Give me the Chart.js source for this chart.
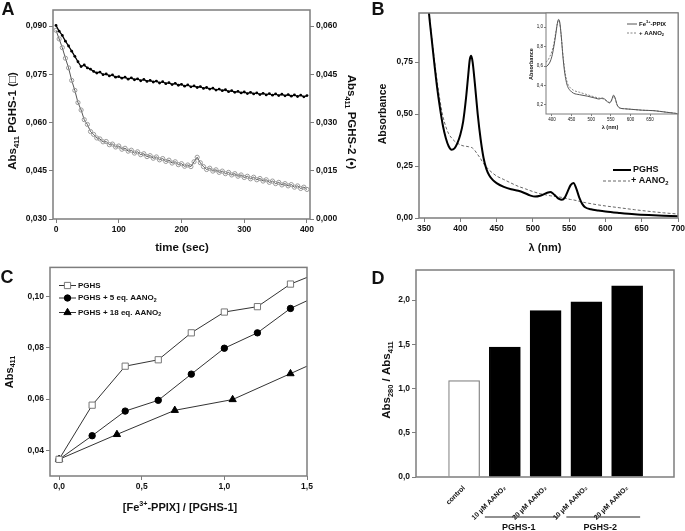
<!DOCTYPE html>
<html>
<head>
<meta charset="utf-8">
<title>PGHS heme figure</title>
<script src="https://cdn.jsdelivr.net/npm/chart.js@4.4.1/dist/chart.umd.min.js"></script>
<style>
  html, body { margin: 0; padding: 0; background: #fff; }
  #wrap { position: relative; width: 685px; height: 531px; overflow: hidden; background: #fff; }
  canvas { position: absolute; }
</style>
</head>
<body>
<div id="wrap">
  <canvas id="cA" width="362" height="262" style="left:0;top:0"></canvas>
  <canvas id="cB" width="323" height="262" style="left:362px;top:0"></canvas>
  <canvas id="cIn" width="160" height="140" style="left:525px;top:0"></canvas>
  <canvas id="cC" width="362" height="269" style="left:0;top:262px"></canvas>
  <canvas id="cD" width="323" height="269" style="left:362px;top:262px"></canvas>
</div>
<script>
// ---- panel A: decay of Abs411 over time
const timeSec = [0,5,10,15,20,25,30,35,40,45,50,55,60,65,70,75,80,85,90,95,100,105,110,115,120,125,130,135,140,145,150,155,160,165,170,175,180,185,190,195,200,205,210,215,220,225,230,235,240,245,250,255,260,265,270,275,280,285,290,295,300,305,310,315,320,325,330,335,340,345,350,355,360,365,370,375,380,385,390,395,400];
const absPghs1 = [.0902,.0884,.0871,.0853,.0838,.0822,.0806,.0789,.0774,.0779,
  .0770,.0766,.0759,.0754,.0757,.0749,.0751,.0745,.0748,.0741,
  .0743,
  .0738,.0741,.0735,.0739,.0733,.0736,.0730,.0734,.0728,.0731,
  .0726,.0729,.0723,.0727,.0721,.0724,.0718,.0722,.0716,.0719,
  .0713,.0717,.0711,.0714,.0709,.0712,.0706,.0709,.0704,.0707,
  .0701,.0704,.0699,.0702,.0696,.0699,.0694,.0697,.0692,.0695,
  .0690,.0694,.0689,.0692,.0687,.0691,.0686,.0690,.0685,.0689,
  .0684,.0688,.0683,.0687,.0682,.0686,.0681,.0685,.0680,.0684];
const absPghs2 = [.0587,.0560,.0533,.0500,.0470,.0431,.0400,.0362,.0339,.0309,
  .0294,.0272,.0263,.0252,.0249,.0240,.0241,.0231,.0233,.0224,
  .0227,
  .0217,.0220,.0211,.0214,.0205,.0209,.0200,.0203,.0194,.0197,
  .0189,.0193,.0184,.0188,.0179,.0183,.0174,.0178,.0169,.0172,
  .0164,.0168,.0163,.0178,.0192,.0175,.0163,.0154,.0158,.0149,
  .0153,.0145,.0149,.0141,.0145,.0137,.0141,.0133,.0137,.0129,
  .0133,.0125,.0130,.0122,.0126,.0118,.0122,.0114,.0118,.0110,
  .0114,.0106,.0110,.0103,.0107,.0099,.0103,.0095,.0099,.0092];
const timeTicks = [0, 100, 200, 300, 400];
const absTicksA = [0.030, 0.045, 0.060, 0.075, 0.090];
const abs2TicksA = [0.000, 0.015, 0.030, 0.045, 0.060];

// ---- panel B: spectra
const nmB = [352,356,360,364,368,372,376,380,384,388,392,396,400,404,408,411,413,415,417,420,424,428,432,436,440,445,450,460,470,480,490,496,503,510,517,521,524,528,532,536,540,544,548,552,556,560,564,568,572,580,590,600,620,640,660,680,700];
const specPghs = [1.25,1.02,0.88,0.75,0.63,0.53,0.445,0.385,0.345,0.328,0.335,0.36,0.40,0.465,0.58,0.69,0.76,0.78,0.75,0.65,0.50,0.38,0.29,0.235,0.205,0.182,0.168,0.150,0.138,0.131,0.118,0.109,0.103,0.107,0.117,0.123,0.125,0.117,0.104,0.092,0.088,0.098,0.128,0.158,0.168,0.140,0.098,0.068,0.052,0.042,0.036,0.031,0.024,0.018,0.014,0.011,0.008];
const specAano = [1.25,1.03,0.89,0.77,0.66,0.565,0.49,0.44,0.405,0.385,0.37,0.36,0.352,0.347,0.345,0.343,0.342,0.34,0.336,0.325,0.305,0.285,0.262,0.245,0.23,0.215,0.202,0.185,0.168,0.152,0.140,0.132,0.124,0.117,0.112,0.109,0.107,0.105,0.103,0.101,0.099,0.096,0.092,0.089,0.087,0.084,0.080,0.077,0.074,0.069,0.063,0.058,0.049,0.040,0.032,0.025,0.019];
const nmTicks = [350, 400, 450, 500, 550, 600, 650, 700];
const absTicksB = [0, 0.25, 0.5, 0.75];

// inset: free Fe3+-PPIX
const nmIn = [385,390,395,400,405,410,414,417,420,424,428,432,436,440,446,455,470,490,510,520,528,534,542,547,552,557,561,566,572,585,600,630,660,690,720];
const specHemin = [0.59,0.61,0.64,0.70,0.80,0.93,1.04,1.08,1.05,0.90,0.70,0.55,0.45,0.39,0.35,0.32,0.305,0.29,0.27,0.26,0.27,0.26,0.23,0.22,0.25,0.30,0.27,0.20,0.17,0.16,0.155,0.145,0.14,0.125,0.11];
const specHeminAano = [0.64,0.66,0.70,0.75,0.83,0.95,1.04,1.07,1.04,0.90,0.72,0.58,0.48,0.42,0.38,0.35,0.33,0.305,0.28,0.27,0.265,0.255,0.235,0.225,0.245,0.285,0.265,0.20,0.17,0.16,0.155,0.145,0.14,0.125,0.11];
const nmTicksIn = [400, 450, 500, 550, 600, 650];
const absTicksIn = [0.2, 0.4, 0.6, 0.8, 1.0];

// ---- panel C: titration
const ratioC = [0, 0.2, 0.4, 0.6, 0.8, 1.0, 1.2, 1.4, 1.6];
const absC0 = [0.0365, 0.0576, 0.0728, 0.0753, 0.0858, 0.0939, 0.0960, 0.1048, 0.1100];
const absC5 = [0.0365, 0.0457, 0.0553, 0.0595, 0.0697, 0.0798, 0.0858, 0.0953, 0.1013];
const ratioC18 = [0, 0.35, 0.70, 1.05, 1.4, 1.6];
const absC18 = [0.0365, 0.0462, 0.0556, 0.0598, 0.0699, 0.0757];
const ratioTicks = [0, 0.5, 1.0, 1.5];
const absTicksC = [0.04, 0.06, 0.08, 0.10];

// ---- panel D: Abs280/Abs411
const catLabels = ['control', '10 µM AANO₂', '20 µM AANO₂', '10 µM AANO₂', '20 µM AANO₂'];
const ratioD = [1.09, 1.47, 1.88, 1.98, 2.16];
const groupsD = [['PGHS-1', 2, 3], ['PGHS-2', 4, 5]];
const ratioTicksD = [0, 0.5, 1.0, 1.5, 2.0];

const FONT = "Arial, 'Liberation Sans', Helvetica, sans-serif";
const GRAY = '#7d7d7d';
Chart.defaults.font.family = FONT;

const fmt = d => v => v.toFixed(d).replace('.', ',');
const tickFont = { family: FONT, size: 8.5, weight: 'bold' };

function axis(o) {
  return {
    type: 'linear',
    position: o.position,
    min: o.min, max: o.max,
    offset: false,
    border: { display: false },
    grid: { display: o.grid !== false, offset: false, drawOnChartArea: false, tickLength: o.tickLen || 4, color: GRAY, lineWidth: 1 },
    ticks: { font: o.font || tickFont, color: '#111', padding: o.pad == null ? 2 : o.pad,
      callback: o.fmt, autoSkip: false, maxRotation: o.rot || 0, minRotation: o.rot || 0 },
    afterBuildTicks: s => { s.ticks = o.values.map(v => ({ value: v })); },
    afterFit: s => {
      if (o.width != null) s.width = o.width;
      if (o.height != null) s.height = o.height;
      s.paddingLeft = s.paddingRight = s.paddingTop = s.paddingBottom = 0;
    }
  };
}

function baseOptions(pad, scales) {
  return {
    responsive: false, maintainAspectRatio: false, animation: false, events: [],
    layout: { padding: pad },
    plugins: { legend: { display: false }, tooltip: { enabled: false } },
    scales: scales
  };
}

// text with sub/superscripts: parts = [[text, 0 normal | 1 sub | 2 sup], ...]
function rich(ctx, t) {
  const size = t.size, small = size * 0.65;
  ctx.save();
  ctx.translate(t.x, t.y);
  if (t.rot) ctx.rotate(t.rot * Math.PI / 180);
  ctx.fillStyle = t.color || '#111';
  ctx.textBaseline = 'middle';
  ctx.textAlign = 'left';
  const fontOf = m => `${t.weight || 'bold'} ${m ? small : size}px ${FONT}`;
  let w = 0;
  t.parts.forEach(([s, m]) => { ctx.font = fontOf(m); w += ctx.measureText(s).width; });
  let cx = t.align === 'left' ? 0 : -w / 2;
  t.parts.forEach(([s, m]) => {
    ctx.font = fontOf(m);
    const dy = m === 1 ? size * 0.32 : m === 2 ? -size * 0.35 : 0;
    ctx.fillText(s, cx, dy);
    cx += ctx.measureText(s).width;
  });
  ctx.restore();
}

function marker(ctx, ds, r, x, y) {
  ctx.save();
  ctx.fillStyle = ds.pointBackgroundColor;
  ctx.strokeStyle = ds.pointBorderColor;
  ctx.lineWidth = ds.pointBorderWidth;
  Chart.helpers.drawPoint(ctx, { pointStyle: ds.pointStyle, radius: r, rotation: 0, borderWidth: ds.pointBorderWidth }, x, y);
  ctx.restore();
}

// frame, titles, hand-placed legend
function decor(cfg) {
  const ox = cfg.off[0], oy = cfg.off[1];
  return {
    id: 'decor',
    beforeDatasetsDraw(chart) {
      if (!cfg.fill) return;
      const a = chart.chartArea, ctx = chart.ctx;
      ctx.save(); ctx.fillStyle = '#fff';
      ctx.fillRect(a.left, a.top, a.right - a.left, a.bottom - a.top);
      ctx.restore();
    },
    afterDraw(chart) {
      const a = chart.chartArea, ctx = chart.ctx;
      ctx.save();
      ctx.strokeStyle = GRAY; ctx.lineWidth = cfg.frame || 1.5;
      ctx.strokeRect(a.left, a.top, a.right - a.left, a.bottom - a.top);
      ctx.restore();
      (cfg.texts || []).forEach(t => rich(ctx, Object.assign({}, t, { x: t.x - ox, y: t.y - oy })));
      (cfg.legend || []).forEach(it => {
        const ds = chart.data.datasets[it.ds];
        const y = it.y - oy;
        ctx.save();
        ctx.strokeStyle = ds.borderColor; ctx.lineWidth = ds.borderWidth;
        ctx.setLineDash(ds.borderDash || []);
        ctx.beginPath(); ctx.moveTo(it.x1 - ox, y); ctx.lineTo(it.x2 - ox, y); ctx.stroke();
        ctx.restore();
        if (it.r) marker(ctx, ds, it.r, (it.x1 + it.x2) / 2 - ox, y);
        rich(ctx, { parts: it.parts, x: it.tx - ox, y: y, size: it.size, align: 'left' });
      });
      if (cfg.after) cfg.after(chart, ox, oy);
    }
  };
}

// ================= A
new Chart(document.getElementById('cA'), {
  type: 'line',
  data: {
    datasets: [
      { label: 'PGHS-1', data: timeSec.map((t, i) => ({ x: t, y: absPghs1[i] })), yAxisID: 'y',
        borderColor: '#000', borderWidth: 1.3, pointRadius: 1.4, pointBackgroundColor: '#000', pointBorderWidth: 0 },
      { label: 'PGHS-2', data: timeSec.map((t, i) => ({ x: t, y: absPghs2[i] })), yAxisID: 'y2',
        borderColor: '#555', borderWidth: 1, pointRadius: 2.1, pointBackgroundColor: 'rgba(255,255,255,0)',
        pointBorderColor: '#9a9a9a', pointBorderWidth: 1 }
    ]
  },
  options: baseOptions({ top: 10 }, {
    x: axis({ position: 'bottom', min: -4.8, max: 404.8, values: timeTicks, fmt: v => String(v), height: 43 }),
    y: axis({ position: 'left', min: 0.030, max: 0.095, values: absTicksA, fmt: fmt(3), width: 53 }),
    y2: axis({ position: 'right', min: 0.000, max: 0.065, values: abs2TicksA, fmt: fmt(3), width: 52 })
  }),
  plugins: [decor({ off: [0, 0], texts: [
    { parts: [['A', 0]], x: 8, y: 10, size: 18 },
    { parts: [['Abs', 0], ['411', 1], [' PGHS-1 (□)', 0]], x: 13, y: 121, rot: -90, size: 11.5 },
    { parts: [['Abs', 0], ['411', 1], [' PGHS-2 (•)', 0]], x: 351, y: 122, rot: 90, size: 11.5 },
    { parts: [['time (sec)', 0]], x: 182, y: 248, size: 11.5 }
  ] })]
});

// ================= B
new Chart(document.getElementById('cB'), {
  type: 'line',
  data: {
    datasets: [
      { label: 'PGHS', data: nmB.map((n, i) => ({ x: n, y: specPghs[i] })),
        borderColor: '#000', borderWidth: 2, pointRadius: 0, cubicInterpolationMode: 'monotone' },
      { label: '+ AANO2', data: nmB.map((n, i) => ({ x: n, y: specAano[i] })),
        borderColor: '#666', borderWidth: 1, borderDash: [3, 2], pointRadius: 0, cubicInterpolationMode: 'monotone' }
    ]
  },
  options: baseOptions({ top: 13, right: 7 }, {
    x: axis({ position: 'bottom', min: 343.1, max: 700, values: nmTicks, fmt: v => String(v), height: 44 }),
    y: axis({ position: 'left', min: 0, max: 0.986, values: absTicksB, fmt: fmt(2), width: 57 })
  }),
  plugins: [decor({ off: [362, 0],
    texts: [
      { parts: [['B', 0]], x: 378, y: 10, size: 18 },
      { parts: [['Absorbance', 0]], x: 383, y: 114, rot: -90, size: 10.5 },
      { parts: [['λ (nm)', 0]], x: 545, y: 248, size: 11 }
    ],
    legend: [
      { ds: 0, x1: 613, x2: 631, y: 170, tx: 633, size: 9, parts: [['PGHS', 0]] },
      { ds: 1, x1: 603, x2: 630, y: 181, tx: 631, size: 9, parts: [['+ AANO', 0], ['2', 1]] }
    ] })]
});

// ================= B inset
const inFont = { family: FONT, size: 4.5 };
new Chart(document.getElementById('cIn'), {
  type: 'line',
  data: {
    datasets: [
      { label: 'Fe3+-PPIX', data: nmIn.map((n, i) => ({ x: n, y: specHemin[i] })),
        borderColor: '#555', borderWidth: 1, pointRadius: 0, cubicInterpolationMode: 'monotone' },
      { label: '+ AANO2', data: nmIn.map((n, i) => ({ x: n, y: specHeminAano[i] })),
        borderColor: '#666', borderWidth: 0.8, borderDash: [2, 1.5], pointRadius: 0, cubicInterpolationMode: 'monotone' }
    ]
  },
  options: baseOptions({ top: 13, right: 7 }, {
    x: axis({ position: 'bottom', min: 385, max: 721, values: nmTicksIn, fmt: v => String(v), height: 26, font: inFont, tickLen: 2, pad: 1 }),
    y: axis({ position: 'left', min: 0.106, max: 1.146, values: absTicksIn, fmt: fmt(1), width: 21, font: inFont, tickLen: 2, pad: 1 })
  }),
  plugins: [decor({ off: [525, 0], fill: true, frame: 1,
    texts: [
      { parts: [['Absorbance', 0]], x: 531, y: 64, rot: -90, size: 5.5 },
      { parts: [['λ (nm)', 0]], x: 610, y: 127, size: 5.5 }
    ],
    legend: [
      { ds: 0, x1: 627, x2: 637, y: 24, tx: 639, size: 6, parts: [['Fe', 0], ['3+', 2], ['-PPIX', 0]] },
      { ds: 1, x1: 627, x2: 637, y: 33, tx: 639, size: 6, parts: [['+ AANO', 0], ['2', 1]] }
    ] })]
});

// ================= C
const hideBeyond = c => (c.parsed && c.parsed.x > 1.5 ? 0 : undefined);
new Chart(document.getElementById('cC'), {
  type: 'line',
  data: {
    datasets: [
      { label: 'PGHS', data: ratioC.map((r, i) => ({ x: r, y: absC0[i] })),
        borderColor: '#333', borderWidth: 1, pointStyle: 'rect',
        pointRadius: c => hideBeyond(c) === 0 ? 0 : 4.4, pointBackgroundColor: '#fff', pointBorderColor: '#777', pointBorderWidth: 1 },
      { label: 'PGHS + 5 eq. AANO2', data: ratioC.map((r, i) => ({ x: r, y: absC5[i] })),
        borderColor: '#333', borderWidth: 1, pointStyle: 'circle',
        pointRadius: c => hideBeyond(c) === 0 ? 0 : 3.2, pointBackgroundColor: '#000', pointBorderColor: '#000', pointBorderWidth: 1 },
      { label: 'PGHS + 18 eq. AANO2', data: ratioC18.map((r, i) => ({ x: r, y: absC18[i] })),
        borderColor: '#333', borderWidth: 1, pointStyle: 'triangle',
        pointRadius: c => hideBeyond(c) === 0 ? 0 : 4.2, pointBackgroundColor: '#000', pointBorderColor: '#000', pointBorderWidth: 1 }
    ]
  },
  options: baseOptions({ top: 5, right: 55 }, {
    x: axis({ position: 'bottom', min: -0.055, max: 1.5, values: ratioTicks, fmt: fmt(1), height: 55 }),
    y: axis({ position: 'left', min: 0.030, max: 0.1113, values: absTicksC, fmt: fmt(2), width: 50 })
  }),
  plugins: [decor({ off: [0, 262],
    texts: [
      { parts: [['C', 0]], x: 7, y: 278, size: 18 },
      { parts: [['Abs', 0], ['411', 1]], x: 10, y: 372, rot: -90, size: 11 },
      { parts: [['[Fe', 0], ['3+', 2], ['-PPIX] / [PGHS-1]', 0]], x: 180, y: 508, size: 11 }
    ],
    legend: [
      { ds: 0, x1: 59, x2: 76, y: 285.5, r: 4.4, tx: 78, size: 8, parts: [['PGHS', 0]] },
      { ds: 1, x1: 59, x2: 76, y: 298, r: 3.2, tx: 78, size: 8, parts: [['PGHS + 5 eq. AANO', 0], ['2', 1]] },
      { ds: 2, x1: 59, x2: 76, y: 312.5, r: 4.2, tx: 78, size: 8, parts: [['PGHS + 18 eq. AANO', 0], ['2', 1]] }
    ] })]
});

// ================= D
new Chart(document.getElementById('cD'), {
  type: 'bar',
  data: {
    datasets: [{
      label: 'Abs280/Abs411',
      data: catLabels.map((c, i) => ({ x: i + 1, y: ratioD[i] })),
      backgroundColor: catLabels.map((c, i) => i === 0 ? '#fff' : '#000'),
      borderColor: catLabels.map((c, i) => i === 0 ? '#808080' : '#000'),
      borderWidth: 1.2,
      barThickness: 31
    }]
  },
  options: baseOptions({ top: 8, right: 11 }, {
    x: axis({ position: 'bottom', min: -0.18, max: 6.15, values: [1, 2, 3, 4, 5], fmt: v => catLabels[v - 1],
      height: 54, grid: false, rot: 45, pad: 3, font: { family: FONT, size: 7, weight: 'bold' } }),
    y: axis({ position: 'left', min: 0, max: 2.34, values: ratioTicksD, fmt: fmt(1), width: 54 })
  }),
  plugins: [decor({ off: [362, 262],
    texts: [
      { parts: [['D', 0]], x: 378, y: 279, size: 18 },
      { parts: [['Abs', 0], ['280', 1], [' / Abs', 0], ['411', 1]], x: 387, y: 380, rot: -90, size: 11.5 }
    ],
    after(chart, ox, oy) {
      const ctx = chart.ctx, xs = chart.scales.x;
      groupsD.forEach(([name, a, b]) => {
        const x1 = xs.getPixelForValue(a) - 20, x2 = xs.getPixelForValue(b) + 13;
        ctx.save(); ctx.strokeStyle = '#222'; ctx.lineWidth = 1;
        ctx.beginPath(); ctx.moveTo(x1, 517 - oy); ctx.lineTo(x2, 517 - oy); ctx.stroke();
        ctx.restore();
        rich(ctx, { parts: [[name, 0]], x: (x1 + x2) / 2 - 3, y: 528 - oy, size: 9 });
      });
    } })]
});
</script>
</body>
</html>
